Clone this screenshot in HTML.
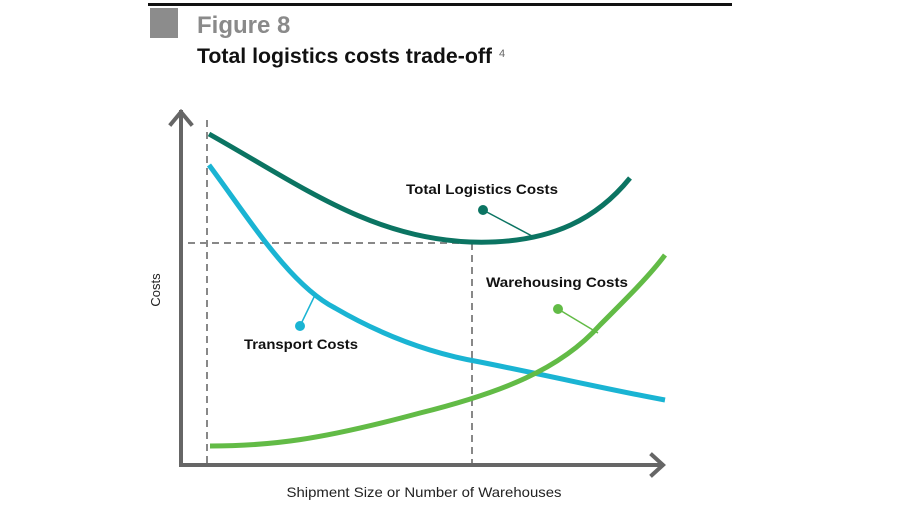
<!DOCTYPE html>
<html><head><style>
body{margin:0;background:#fff;}
svg{display:block;}
</style></head><body>
<svg width="900" height="506" viewBox="0 0 900 506" xmlns="http://www.w3.org/2000/svg">
<rect x="148" y="3" width="584" height="3" fill="#111"/>
<rect x="150" y="8" width="28" height="30" fill="#8c8c8c"/>
<text x="197" y="33" font-family="Liberation Sans, sans-serif" font-size="24" font-weight="bold" fill="#8a8a8a">Figure 8</text>
<text x="197" y="63" font-family="Liberation Sans, sans-serif" font-size="21" font-weight="bold" fill="#111" textLength="295" lengthAdjust="spacingAndGlyphs">Total logistics costs trade-off</text>
<text x="499" y="57" font-family="Liberation Sans, sans-serif" font-size="11" fill="#666">4</text>

<g stroke="#888" stroke-width="2" stroke-dasharray="7,5" fill="none">
<line x1="207" y1="120" x2="207" y2="465"/>
<line x1="472" y1="243" x2="472" y2="465"/>
<line x1="188" y1="243" x2="472" y2="243"/>
</g>
<g stroke="#666" stroke-width="4" fill="none" stroke-linecap="square">
<line x1="181" y1="112" x2="181" y2="465"/>
<line x1="181" y1="465" x2="662" y2="465"/>
<polyline points="171,124 181,112 191,124" stroke-linejoin="miter"/>
<polyline points="652,455 663,465 652,475"/>
</g>

<path d="M209,134 C300,185 370,238 470,242 C555,245 600,215 630,178" stroke="#0b7462" stroke-width="5" fill="none"/>
<path d="M209,165 C250,220 290,285 335,308 C390,340 440,355 480,362 C560,378 610,390 665,400" stroke="#1ab4d3" stroke-width="5" fill="none"/>
<path d="M210,446 C270,446 320,440 420,413 C500,393 560,370 600,325 C630,295 650,275 665,255" stroke="#62bb46" stroke-width="5" fill="none"/>

<g stroke-width="1.5">
<line x1="483" y1="210" x2="532" y2="236" stroke="#0b7462"/>
<circle cx="483" cy="210" r="5" fill="#0b7462"/>
<line x1="558" y1="309" x2="598" y2="333" stroke="#62bb46"/>
<circle cx="558" cy="309" r="5" fill="#62bb46"/>
<line x1="300" y1="326" x2="316" y2="293" stroke="#1ab4d3"/>
<circle cx="300" cy="326" r="5" fill="#1ab4d3"/>
</g>

<g font-family="Liberation Sans, sans-serif" font-weight="bold" font-size="14" fill="#111">
<text x="406" y="194" textLength="152" lengthAdjust="spacingAndGlyphs">Total Logistics Costs</text>
<text x="486" y="287" textLength="142" lengthAdjust="spacingAndGlyphs">Warehousing Costs</text>
<text x="244" y="349" textLength="114" lengthAdjust="spacingAndGlyphs">Transport Costs</text>
</g>
<text transform="translate(160,290) rotate(-90)" text-anchor="middle" font-family="Liberation Sans, sans-serif" font-size="13" fill="#222">Costs</text>
<text x="424" y="497" text-anchor="middle" font-family="Liberation Sans, sans-serif" font-size="14" fill="#222" textLength="275" lengthAdjust="spacingAndGlyphs">Shipment Size or Number of Warehouses</text>
</svg>
</body></html>
